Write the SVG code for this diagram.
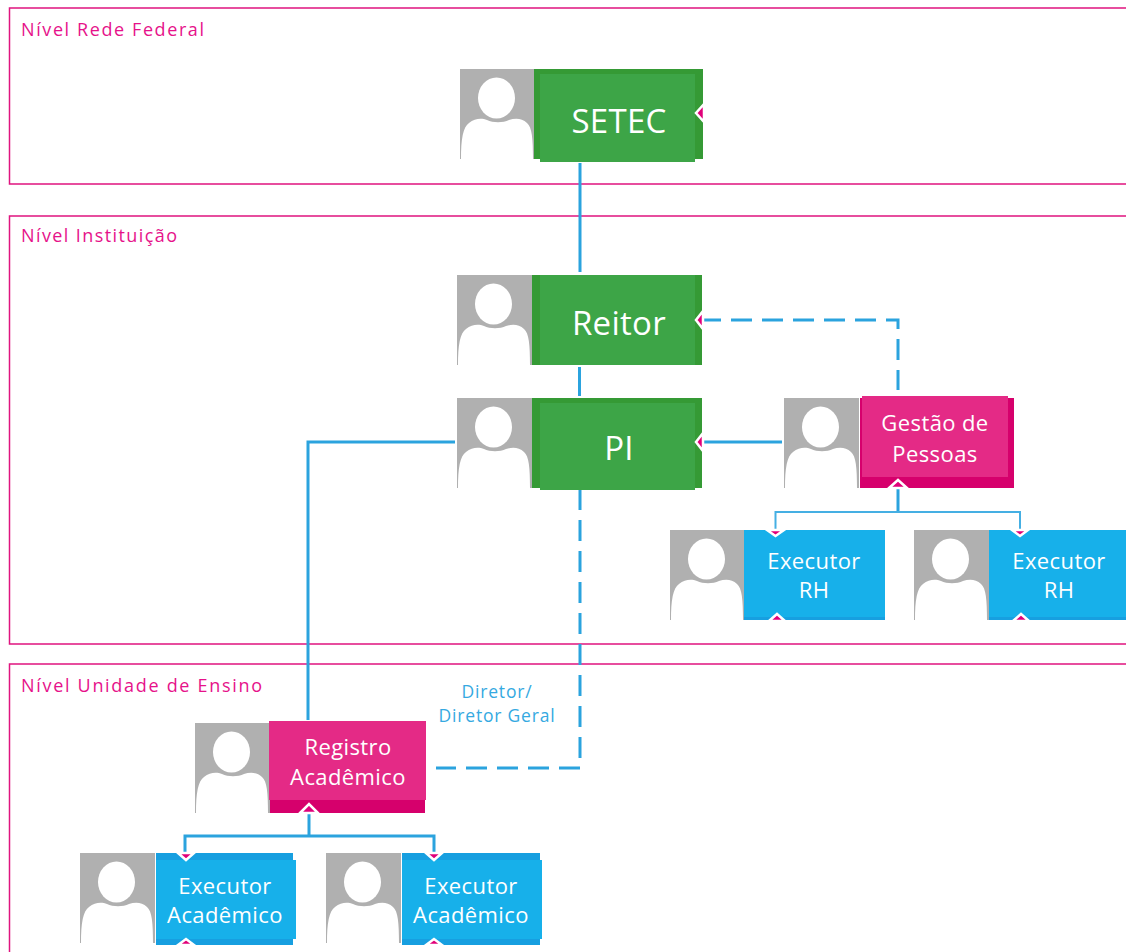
<svg xmlns="http://www.w3.org/2000/svg" width="1126" height="952" viewBox="0 0 1126 952">
<style>
.frame{fill:none;stroke:#e0147f;stroke-width:1.5}
.lvl{font-family:"Open Sans","Liberation Sans",sans-serif;font-size:18px;fill:#e6128a}
.t{font-family:"Open Sans","Liberation Sans",sans-serif;fill:#fff;text-anchor:middle}
.big{font-size:33px;letter-spacing:.3px}
.mid{font-size:22px;letter-spacing:.4px}
.bl{font-family:"Open Sans","Liberation Sans",sans-serif;font-size:17.5px;letter-spacing:.8px;fill:#35a9e1;text-anchor:middle}
.c{fill:none;stroke:#2ba3de;stroke-width:3}
.thin{stroke-width:2;stroke:#45afe3}
.d{stroke-dasharray:21 10}
.tip{fill:#e0007a;stroke:#fff;stroke-width:2.500}
.gd{fill:#359a35}.gl{fill:#3da547}
.pd{fill:#d6006c}.pl{fill:#e42a86}
.bd{fill:#179fe0}.bl2{fill:#17b0ea}
</style>
<defs>
<g id="av">
<rect width="75" height="90" fill="#b0b0b0"/>
<path d="M1 90C1 70 3 58 9 54C15 49 22 49 27 51C33 54 43 54 49 51C55 49 62 49 67 54C72 58 73 70 73 90Z" fill="#fff"/>
<ellipse cx="36.500" cy="29" rx="18.500" ry="20.500" fill="#fff"/>
</g>
</defs>
<rect width="1126" height="952" fill="#fff"/>
<g id="levels">
<path class="frame" d="M1126 8H9.500V184H1126"/>
<path class="frame" d="M1126 216H9.500V644H1126"/>
<path class="frame" d="M1126 664H9.500V952"/>
<text class="lvl" x="21" y="36" textLength="183">Nível Rede Federal</text>
<text class="lvl" x="21" y="242" textLength="156">Nível Instituição</text>
<text class="lvl" x="21" y="692" textLength="241">Nível Unidade de Ensino</text>
</g>
<g id="connectors">
<path class="c" d="M580 163V272M579.500 367V396"/>
<path class="c" d="M455 442H308V720"/>
<path class="c d" d="M580 489V768H436"/>
<path class="c d" d="M700 320H898V390"/>
<path class="c" d="M700 442H782"/>
<path class="c" d="M898 484V512"/>
<path class="c thin" d="M775.500 531V512H1020V531"/>
<path class="c" d="M309 806V836M185 854V836H434V854"/>
</g>
<g id="setec"><use href="#av" x="460" y="69"/><rect class="gd" x="534" y="69" width="169" height="90"/><rect class="gl" x="540" y="74" width="155" height="88"/><text class="t big" x="619" y="133">SETEC</text><path class="tip" d="M704 104L696 113L704 122Z"/></g>
<g id="reitor"><use href="#av" x="457" y="275"/><rect class="gd" x="532" y="275" width="170" height="90"/><rect class="gl" x="540" y="275" width="155" height="90"/><text class="t big" x="619" y="335">Reitor</text><path class="tip" d="M703 311L696 320L703 329Z"/></g>
<g id="pi"><use href="#av" x="457" y="398"/><rect class="gd" x="532" y="398" width="170" height="90"/><rect class="gl" x="540" y="403" width="155" height="87"/><text class="t big" x="619" y="460">PI</text><path class="tip" d="M703 433L696 442L703 451Z"/></g>
<g id="gestao"><use href="#av" x="784" y="398"/><rect class="pd" x="860" y="398" width="154" height="90"/><rect class="pl" x="862" y="396" width="146" height="81"/><text class="t mid" x="935" y="431">Gestão de</text><text class="t mid" x="935" y="462">Pessoas</text><path class="tip" d="M889 488L898 480L907 488Z"/></g>
<g id="executor-rh-1"><use href="#av" x="670" y="530"/><rect class="bl2" x="744" y="530" width="141" height="90"/><rect class="bd" x="744" y="617" width="141" height="3"/><text class="t mid" x="814" y="569">Executor</text><text class="t mid" x="814" y="598">RH</text><path class="tip" d="M767 530L775.500 536L784 530Z"/><path class="tip" d="M769 621L777 614L785 621Z"/></g>
<g id="executor-rh-2"><use href="#av" x="914" y="530"/><rect class="bl2" x="989" y="530" width="137" height="90"/><rect class="bd" x="989" y="617" width="137" height="3"/><text class="t mid" x="1059" y="569">Executor</text><text class="t mid" x="1059" y="598">RH</text><path class="tip" d="M1012 530L1020 536L1028 530Z"/><path class="tip" d="M1013 621L1021 614L1029 621Z"/></g>
<g id="registro"><use href="#av" x="195" y="723"/><rect class="pd" x="270" y="800" width="155" height="13"/><rect class="pl" x="269" y="721" width="157" height="79"/><text class="t mid" x="348" y="755">Registro</text><text class="t mid" x="348" y="785">Acadêmico</text><path class="tip" d="M300 813L309 804L318 813Z"/></g>
<g id="executor-academico-1"><use href="#av" x="80" y="853"/><rect class="bd" x="156" y="853" width="137" height="92"/><rect class="bl2" x="156" y="860" width="140" height="79"/><text class="t mid" x="225" y="894">Executor</text><text class="t mid" x="225" y="923">Acadêmico</text><path class="tip" d="M178 853L186 860L194 853Z"/><path class="tip" d="M178 945L186 939L194 945Z"/></g>
<g id="executor-academico-2"><use href="#av" x="326" y="853"/><rect class="bd" x="402" y="853" width="138" height="92"/><rect class="bl2" x="402" y="860" width="140" height="79"/><text class="t mid" x="471" y="894">Executor</text><text class="t mid" x="471" y="923">Acadêmico</text><path class="tip" d="M426 853L434 860L442 853Z"/><path class="tip" d="M426 945L434 939L442 945Z"/></g>
<g id="diretor-label"><text class="bl" x="497" y="698">Diretor/</text><text class="bl" x="497" y="722">Diretor Geral</text></g>
</svg>
